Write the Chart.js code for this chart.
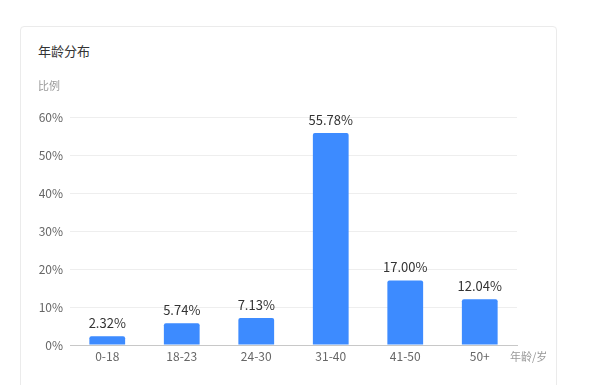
<!DOCTYPE html>
<html>
<head>
<meta charset="utf-8">
<script src="https://cdn.jsdelivr.net/npm/chart.js@4"></script>
<style>
    html, body { margin: 0; padding: 0; background: #fff; }
    body { width: 600px; height: 385px; position: relative; overflow: hidden; font-family: "Noto Sans CJK SC", sans-serif; }
    .card { position: absolute; left: 20px; top: 26px; width: 537px; height: 380px; border: 1px solid #ebebeb; border-radius: 4px; box-sizing: border-box; }
    .card-title { position: absolute; left: 38px; top: 42px; font-size: 13px; color: #333; line-height: 18px; }
    #chart-wrap { position: absolute; left: 0; top: 0; width: 600px; height: 385px; }
</style>
</head>
<body>
<div class="card"></div>
<div class="card-title">年龄分布</div>
<div id="chart-wrap"><canvas id="age-chart" width="600" height="385"></canvas></div>
<script>
var ageGroups = ['0-18', '18-23', '24-30', '31-40', '41-50', '50+'];
var ratioValues = [2.32, 5.74, 7.13, 55.78, 17.00, 12.04];
var yTicks = [0, 10, 20, 30, 40, 50, 60];

var fontFamily = '"Noto Sans CJK SC", sans-serif';

// value labels above bars + the two axis names
var labelPlugin = {
    id: 'barLabels',
    afterDatasetsDraw: function (chart) {
        var ctx = chart.ctx;
        var meta = chart.getDatasetMeta(0);
        ctx.save();
        ctx.font = '13px ' + fontFamily;
        ctx.fillStyle = '#333';
        ctx.textAlign = 'center';
        ctx.textBaseline = 'middle';
        meta.data.forEach(function (bar, i) {
            ctx.fillText(ratioValues[i].toFixed(2) + '%', bar.x, bar.y - 13);
        });
        ctx.font = '11px ' + fontFamily;
        ctx.fillStyle = '#999';
        ctx.textAlign = 'left';
        ctx.fillText('比例', 38, 86);
        ctx.fillText('年龄/岁', chart.chartArea.right - 7, 357);
        ctx.restore();
    }
};

new Chart(document.getElementById('age-chart'), {
    type: 'bar',
    data: {
        labels: ageGroups,
        datasets: [{
            data: ratioValues,
            backgroundColor: '#3d8bff',
            borderRadius: { topLeft: 2, topRight: 2 },
            borderSkipped: 'bottom',
            categoryPercentage: 1,
            barPercentage: 0.48
        }]
    },
    options: {
        responsive: false,
        animation: false,
        devicePixelRatio: 1,
        layout: { padding: { left: 20, right: 83, top: 117, bottom: 0 } },
        plugins: { legend: { display: false }, tooltip: { enabled: false } },
        scales: {
            x: {
                grid: { display: false, drawTicks: false },
                border: { display: true, color: '#c8c8c8' },
                ticks: { color: '#666', font: { family: fontFamily, size: 12 }, padding: 4, autoSkip: false, maxRotation: 0 },
                afterFit: function (scale) { scale.height = 40; }
            },
            y: {
                min: 0,
                max: 60,
                afterBuildTicks: function (scale) {
                    scale.ticks = yTicks.map(function (v) { return { value: v }; });
                },
                grid: { color: '#eeeeee', drawTicks: false },
                border: { display: false },
                ticks: {
                    color: '#666',
                    font: { family: fontFamily, size: 12 },
                    padding: 7,
                    callback: function (v) { return v + '%'; }
                },
                afterFit: function (scale) { scale.width = 50; }
            }
        }
    },
    plugins: [labelPlugin]
});
</script>
</body>
</html>
